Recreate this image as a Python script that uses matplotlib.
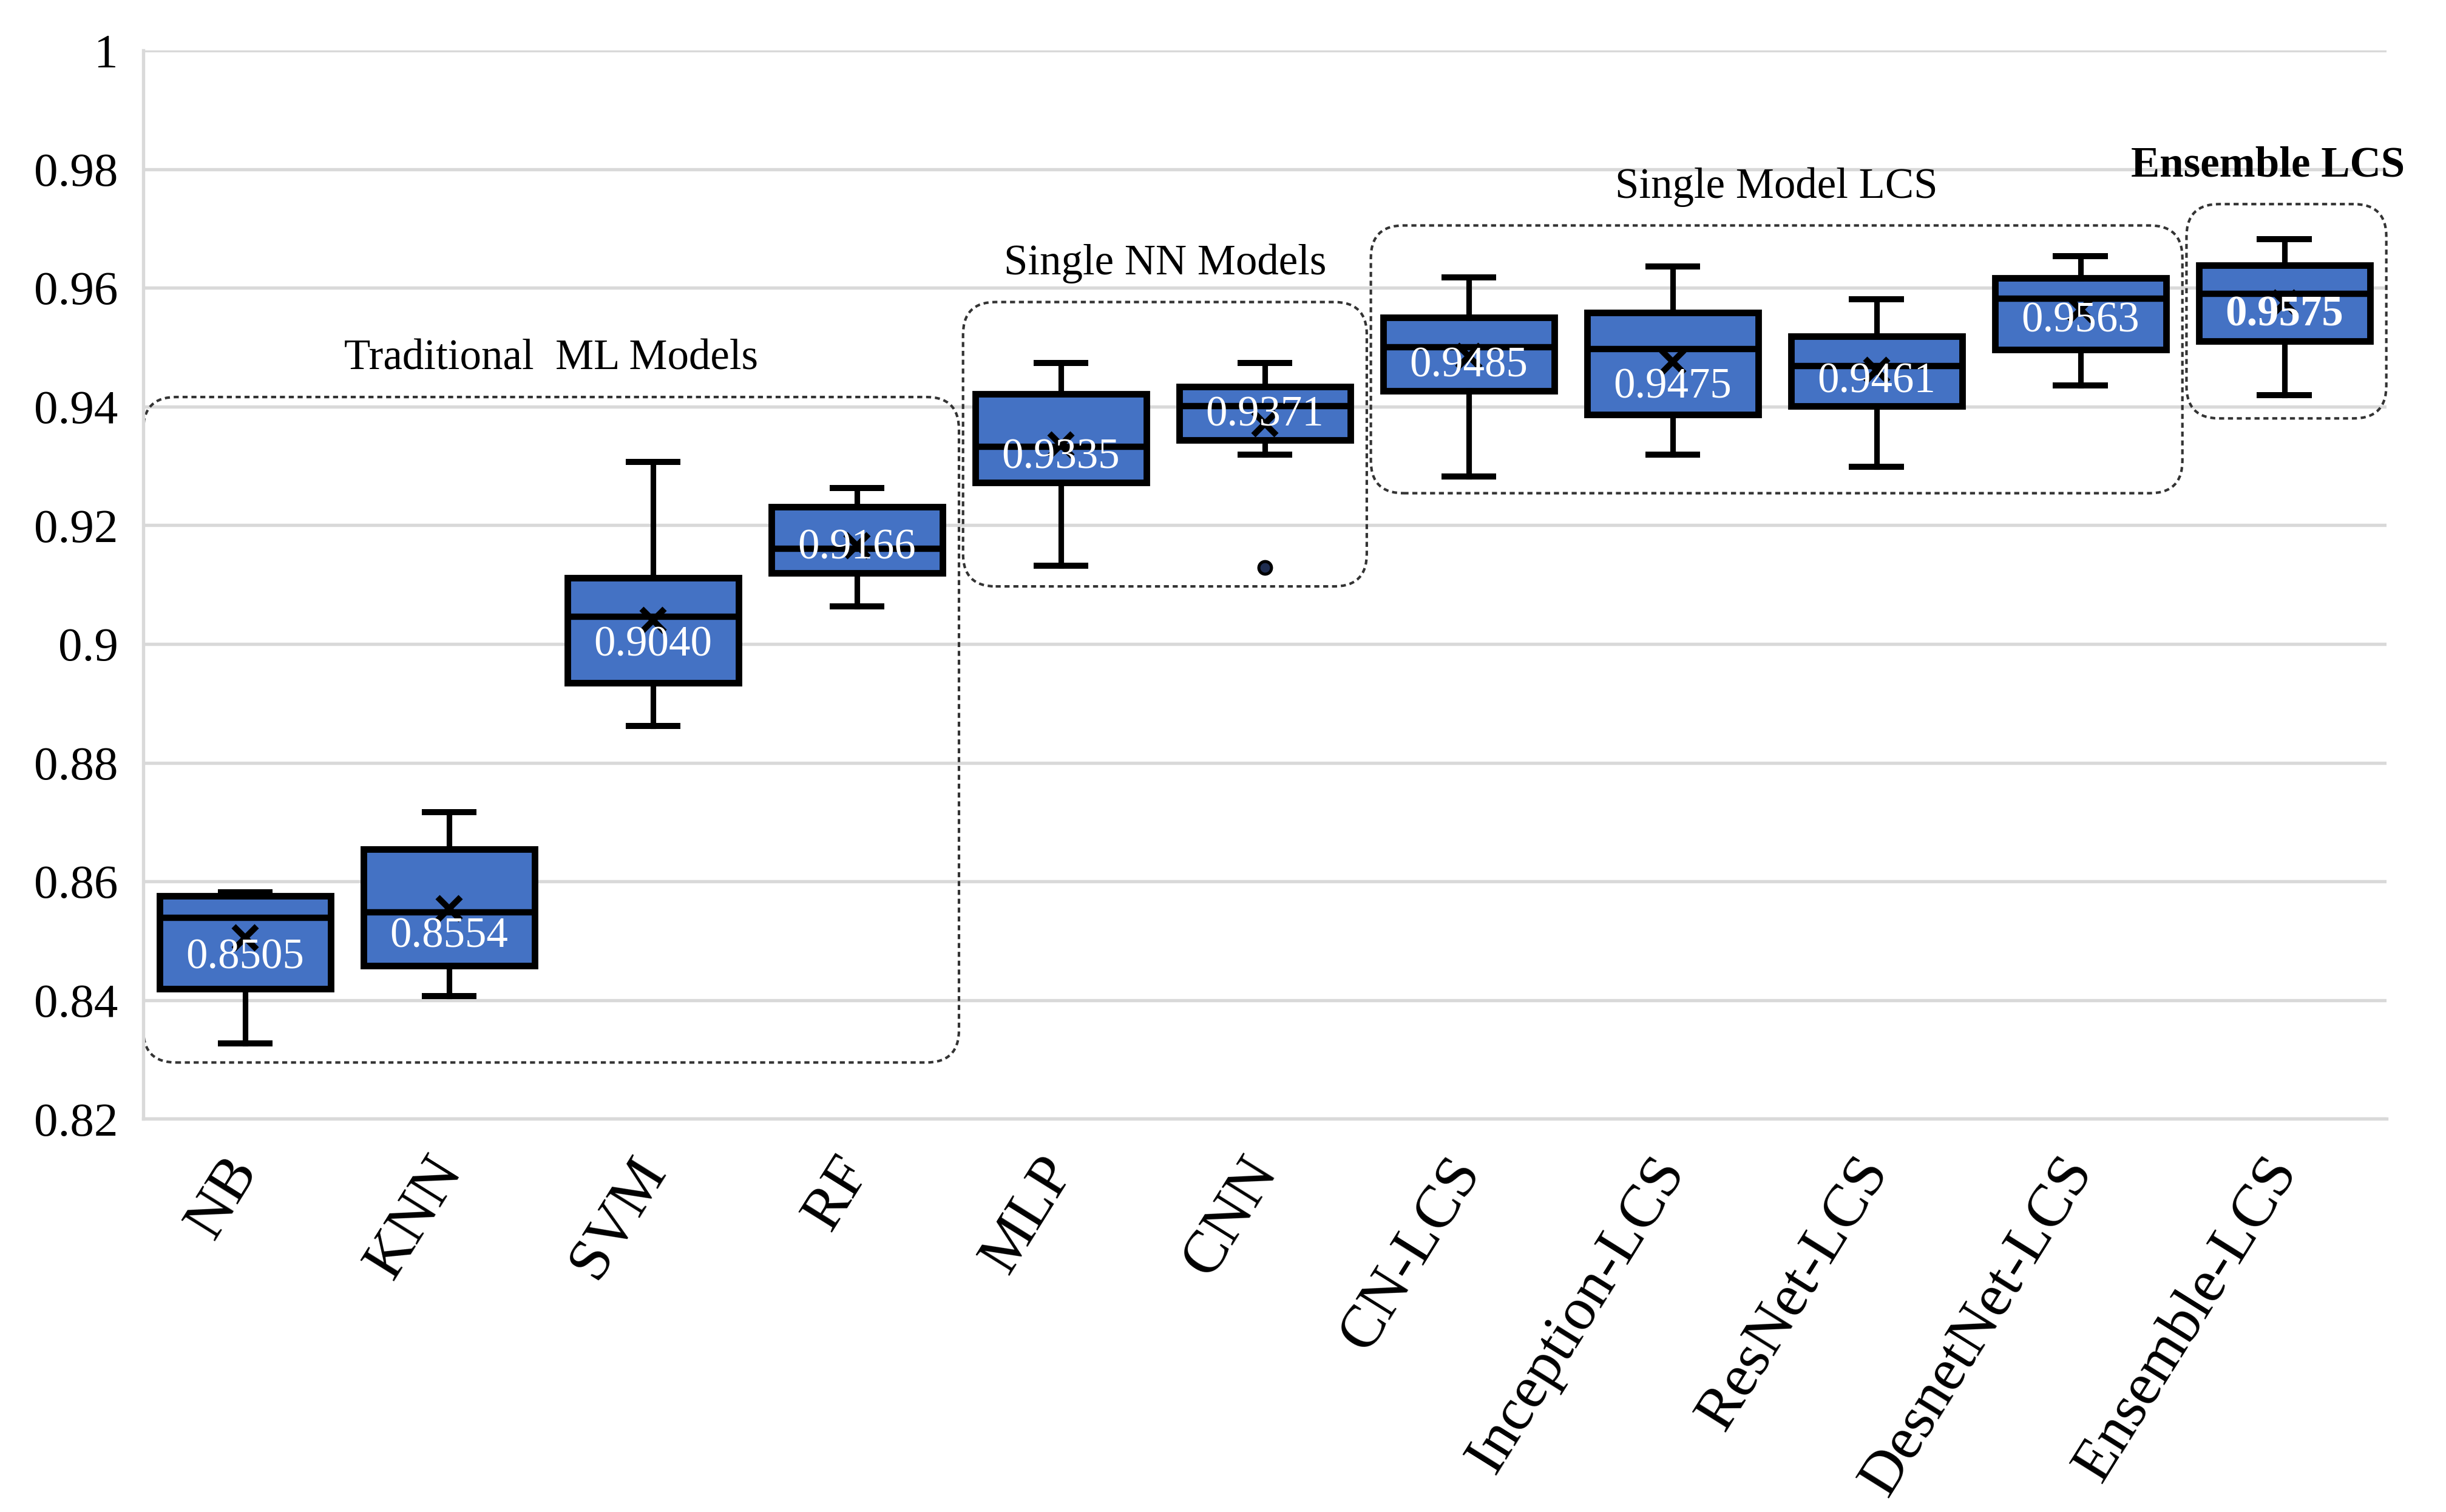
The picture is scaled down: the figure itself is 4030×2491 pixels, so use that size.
import numpy as np
import matplotlib.pyplot as plt
from matplotlib.patches import FancyBboxPatch
from matplotlib.ticker import FuncFormatter

plt.rcParams['font.family'] = ['Liberation Serif', 'DejaVu Serif']

# values
models = ["NB", "KNN", "SVM", "RF", "MLP", "CNN", "CN-LCS", "Inception-LCS",
          "ResNet-LCS", "DesnetNet-LCS", "Ensemble-LCS"]
whisker_low = [0.8327, 0.8407, 0.8862, 0.9063, 0.9132, 0.9319, 0.9282, 0.9319, 0.9299, 0.9436, 0.9419]
q1 = [0.8419, 0.8458, 0.8935, 0.9120, 0.9272, 0.9344, 0.9426, 0.9386, 0.9401, 0.9496, 0.9510]
median = [0.8539, 0.8548, 0.9046, 0.9160, 0.9332, 0.9401, 0.9500, 0.9497, 0.9468, 0.9582, 0.9590]
q3 = [0.8576, 0.8654, 0.9111, 0.9231, 0.9421, 0.9433, 0.9550, 0.9558, 0.9518, 0.9617, 0.9638]
whisker_high = [0.8582, 0.8717, 0.9307, 0.9263, 0.9473, 0.9473, 0.9618, 0.9636, 0.9581, 0.9653, 0.9682]
means = [0.8505, 0.8554, 0.9040, 0.9166, 0.9335, 0.9371, 0.9485, 0.9475, 0.9461, 0.9563, 0.9575]
outliers = [[], [], [], [], [], [0.9129], [], [], [], [], []]

# group frames: (label, first, last, bottom, top)
groups = [("Traditional  ML Models", 0, 3, 0.8295, 0.9416),
          ("Single NN Models", 4, 5, 0.9097, 0.9576),
          ("Single Model LCS", 6, 9, 0.9254, 0.9705),
          ("Ensemble LCS", 10, 10, 0.9380, 0.9741)]

# vertical shift of the value labels (points)
label_shift = [-8, -11, -10, -1, -5, 3.5, -4, -10, -4.5, -4.5, -5]

fig = plt.figure(figsize=(4030/300, 2491/300), dpi=300)
ax = fig.add_axes([0.0586, 0.260, 0.917, 0.7067])

stats = []
for i in range(len(models)):
    stats.append(dict(whislo=whisker_low[i], q1=q1[i], med=median[i], q3=q3[i],
                      whishi=whisker_high[i], mean=means[i], fliers=outliers[i]))

pos = np.arange(len(models))
ax.bxp(stats, positions=pos, widths=0.84, capwidths=0.24, showmeans=True,
       patch_artist=True,
       boxprops=dict(facecolor="#4472C4", edgecolor="black", linewidth=2.6),
       medianprops=dict(color="black", linewidth=2.5),
       whiskerprops=dict(color="black", linewidth=2.2),
       capprops=dict(color="black", linewidth=2.4),
       meanprops=dict(marker="x", markeredgecolor="black", markersize=9, markeredgewidth=2.4),
       flierprops=dict(marker="o", markerfacecolor="#1f2d50", markeredgecolor="black",
                       markersize=5, markeredgewidth=1.2),
       zorder=3)

for i, m in enumerate(means):
    bold = models[i] == "Ensemble-LCS"
    ax.annotate(f"{m:.4f}", (pos[i], m), xytext=(0, label_shift[i]), textcoords="offset points",
                ha="center", va="center", color="white", fontsize=17,
                fontweight="bold" if bold else "normal", zorder=5)

ax.set_xlim(-0.5, len(models) - 0.5)
ax.set_ylim(0.82, 1.0)
ax.set_yticks(np.arange(0.82, 1.001, 0.02))
ax.yaxis.set_major_formatter(FuncFormatter(lambda v, p: f"{v:.2f}".rstrip("0").rstrip(".")))
ax.set_xticks(pos)
ax.set_xticklabels(models, rotation=58, ha="right", va="center", rotation_mode="anchor",
                   fontsize=24)
ax.tick_params(axis="both", length=0)
ax.tick_params(axis="y", labelsize=19, pad=10)
ax.tick_params(axis="x", pad=17)

ax.yaxis.grid(True, color="#d9d9d9", linewidth=1.3)
ax.set_axisbelow(True)
for s in ["top", "right"]:
    ax.spines[s].set_visible(False)
for s in ["left", "bottom"]:
    ax.spines[s].set_color("#d9d9d9")
    ax.spines[s].set_linewidth(1.3)

# rounded dotted frames around the model groups
fig.canvas.draw()
p0 = ax.transData.transform((0, 0))
p1 = ax.transData.transform((1, 1))
aspect = (p1[0] - p0[0]) / (p1[1] - p0[1])
for name, a, b, lo, hi in groups:
    x0 = a - 0.5 + (0.02 if a > 0 else 0)
    x1 = b + 0.5
    frame = FancyBboxPatch((x0, lo), x1 - x0, hi - lo,
                           boxstyle="round,pad=0,rounding_size=0.16",
                           mutation_aspect=aspect, fill=False, edgecolor="#333333",
                           linewidth=1.0, linestyle=(0, (2, 1.5)), clip_on=False, zorder=2)
    ax.add_patch(frame)
    bold = name == "Ensemble LCS"
    ax.text((x0 + x1) / 2 if not bold else x1 - 0.58, hi + 0.0065, name, ha="center", va="center",
            fontsize=17, fontweight="bold" if bold else "normal")

fig.savefig("out.png", dpi=300)
